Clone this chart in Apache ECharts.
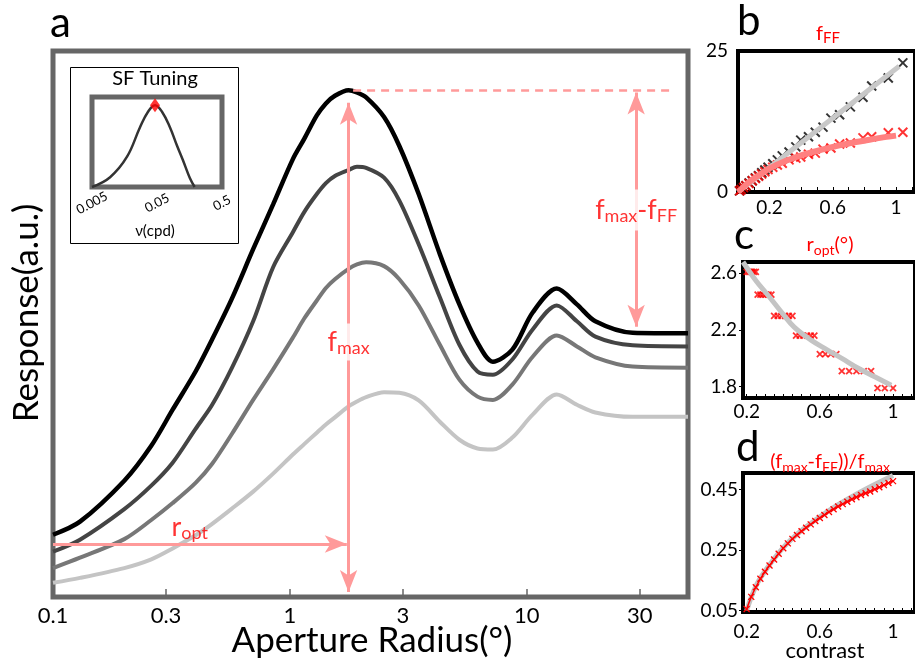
<!DOCTYPE html>
<html><head><meta charset="utf-8">
<script src="https://cdn.jsdelivr.net/npm/echarts@6/dist/echarts.min.js"></script>
<style>html,body{margin:0;padding:0;background:#fff}#c{width:915px;height:667px}</style>
</head><body><div id="c"></div>
<script>
// ---------- data ----------
const radius   = [0.1,0.13,0.2,0.26,0.32,0.4,0.47,0.57,0.7,0.85,1.03,1.15,1.3,1.42,1.55,1.77,1.92,2.1,2.5,2.9,3.5,4.3,5.2,6.2,7.2,8.7,10.6,13.4,16.3,19.5,28,48];
const respHigh = [11.4,13.8,21.3,27.7,34.3,41.3,47.2,54.7,63.7,71.9,80.2,83.9,88.2,90.4,91.8,92.8,92.4,91.5,87.9,82.6,73.8,62.8,53.6,46.6,43.1,45.3,52.1,56.5,53.6,50.5,48.4,48.3];
const respMid1 = [8.3,10.5,16.1,20.4,24.6,30.8,35.2,42.0,50.5,60.4,66.8,70.5,73.8,75.8,77.1,78.2,78.8,78.6,76.8,72.6,64.6,54.9,46.2,41.3,40.7,43.5,49.0,53.4,50.5,47.7,46.1,45.9];
const respMid2 = [5.3,7.2,10.6,14.1,17.2,20.9,24.4,29.9,36.1,41.7,47.5,51.0,54.3,56.6,58.2,60.1,60.9,61.3,60.6,58.2,53.4,46.2,39.8,36.7,36.1,38.9,44.0,47.9,45.9,43.9,42.2,42.0];
const respLow  = [2.6,3.5,5.3,6.9,8.9,11.3,13.4,16.2,19.3,22.6,26.1,28.0,30.1,31.6,32.9,34.9,35.8,36.6,37.5,37.4,36.0,32.1,28.8,27.2,27.0,29.2,33.4,37.1,35.2,33.8,33.0,33.0];
const mainTicks = [0.1,0.3,1,3,10,30];

// annotation values (main panel)
const rOpt = 1.77, fMax = 92.8, fFF = 48.4, ropLevel = 9.7, diffX = 29;

// inset: SF tuning
const sfFreq = [0.005,0.0095,0.0173,0.0274,0.0364,0.0466,0.0597,0.079,0.101,0.125,0.16,0.19];
const sfResp = [0,0.12,0.37,0.73,0.92,1.0,0.92,0.73,0.51,0.33,0.11,0];
const sfPeak = [0.0466, 1.0];
const sfTicks = [0.005,0.05,0.5];

// panel b: f_FF vs contrast
const contrastB = [0.01,0.02,0.035,0.05,0.07,0.09,0.11,0.13,0.15,0.17,0.19,0.22,0.249,0.28,0.323,0.366,0.397,0.446,0.489,0.538,0.588,0.643,0.711,0.791,0.846,0.951,1.043];
const fffBlack = [0.2,0.45,0.8,1.1,1.6,2.0,2.5,2.9,3.4,3.9,4.4,5.0,5.7,6.4,7.1,8.0,9.2,9.8,10.6,11.5,13.1,13.7,15.1,16.8,18.8,20.2,22.9];
const fffRed = [0.2,0.45,0.8,1.1,1.5,2.0,2.4,2.8,3.2,3.6,4.0,4.4,4.8,5.1,5.7,6.0,6.2,6.7,6.9,7.6,7.8,8.5,8.7,9.6,9.8,10.5,10.6];
const fitBlackX = [0,1.02], fitBlackY = [0,22.3];
const fitRedX = [0,0.05,0.1,0.15,0.2,0.3,0.4,0.5,0.6,0.7,0.8,0.9,1.0];
const fitRedY = [0,1.3,2.4,3.3,4.2,5.5,6.5,7.3,8.0,8.6,9.1,9.6,10.0];
const ticksB = [0.2,0.6,1], ticksBy = [0,25];

// panel c: r_opt vs contrast
const contrastC = [0.2,0.21,0.22,0.23,0.24,0.25, 0.26,0.275,0.29,0.305,0.32,0.335, 0.35,0.37,0.39,0.41,0.43,0.45, 0.47,0.49,0.51,0.53,0.55,0.57, 0.6,0.63,0.66,0.69, 0.72,0.76,0.8,0.84,0.88, 0.915,0.955,1.0];
const roptC = [2.61,2.61,2.61,2.61,2.61,2.61, 2.45,2.45,2.45,2.45,2.45,2.45, 2.30,2.30,2.30,2.30,2.30,2.30, 2.16,2.16,2.16,2.16,2.16,2.16, 2.03,2.03,2.03,2.03, 1.91,1.91,1.91,1.91,1.91, 1.79,1.79,1.79];
const fitCx = [0.18,0.25,0.32,0.4,0.46,0.55,0.64,0.72,0.81,0.9,0.99];
const fitCy = [2.68,2.55,2.44,2.31,2.22,2.13,2.06,2.00,1.93,1.87,1.81];
const ticksC = [0.2,0.6,1], ticksCy = [1.8,2.2,2.6];

// panel d: (fmax-fFF)/fmax vs contrast
const contrastD = [0.2,0.225,0.25,0.275,0.3,0.325,0.35,0.375,0.4,0.425,0.45,0.475,0.5,0.525,0.55,0.575,0.6,0.625,0.65,0.675,0.7,0.725,0.75,0.775,0.8,0.825,0.85,0.875,0.9,0.925,0.95,0.975,1.0];
const ratioD = [0.055,0.095,0.127,0.155,0.178,0.199,0.219,0.238,0.256,0.272,0.287,0.300,0.312,0.324,0.335,0.346,0.356,0.366,0.376,0.385,0.394,0.402,0.410,0.418,0.425,0.432,0.438,0.444,0.451,0.458,0.465,0.472,0.478];
const fitDx = [0.2,0.25,0.3,0.4,0.5,0.6,0.7,0.8,0.9,1.0];
const fitDy = [0.05,0.13,0.18,0.258,0.315,0.36,0.4,0.435,0.467,0.497];
const ticksD = [0.2,0.6,1], ticksDy = [0.05,0.25,0.45];
const minorTicksB = [0.1,0.2,0.3,0.4,0.5,0.6,0.7,0.8,0.9,1.0,1.1];
const minorTicksCD = [0.2,0.25,0.3,0.35,0.4,0.45,0.5,0.55,0.6,0.65,0.7,0.75,0.8,0.85,0.9,0.95,1.0,1.05,1.1];

// ---------- chart ----------
const F = 'Lato';
const RED = '#ff0000', PINK = '#ff9a9a';
const pair = (xs, ys) => xs.map((x, i) => [x, ys[i]]);
const fmt = v => String(+(+v).toPrecision(3));
const CROSS = 'path://M0,0L10,10M10,0L0,10';

function subRich(big, small) {
  return {
    m: {fontFamily: F, fontSize: big, color: RED, fill: RED, lineHeight: big + 4},
    s: {fontFamily: F, fontSize: small, color: RED, fill: RED, verticalAlign: 'bottom', lineHeight: small - 2}
  };
}

const chart = echarts.init(document.getElementById('c'));

const smallAxisLabel = {fontFamily: F, fontSize: 19, color: '#000'};

const option = {
  animation: false,
  backgroundColor: '#fff',
  grid: [
    {left: 53, top: 51, width: 635, height: 546, show: true, borderColor: '#666', borderWidth: 5, backgroundColor: 'transparent'},
    {left: 92, top: 97, width: 130, height: 90, show: true, borderColor: '#666', borderWidth: 5, backgroundColor: 'transparent'},
    {left: 738, top: 51, width: 182, height: 141, show: true, borderColor: '#000', borderWidth: 4, backgroundColor: 'transparent'},
    {left: 743, top: 262, width: 178, height: 136, show: true, borderColor: '#000', borderWidth: 4, backgroundColor: 'transparent'},
    {left: 743, top: 473, width: 178, height: 139, show: true, borderColor: '#000', borderWidth: 4, backgroundColor: 'transparent'}
  ],
  xAxis: [
    {gridIndex: 0, type: 'log', logBase: 10, min: 0.1, max: 48,
      axisLine: {show: false}, splitLine: {show: false},
      axisTick: {show: true, inside: true, length: 8, customValues: mainTicks, lineStyle: {color: '#666', width: 1.5}},
      axisLabel: {show: true, customValues: mainTicks, formatter: fmt, fontFamily: F, fontSize: 22, color: '#000', margin: 8},
      minorTick: {show: false}},
    {gridIndex: 1, type: 'log', logBase: 10, min: 0.005, max: 0.5,
      axisLine: {show: false}, splitLine: {show: false}, axisTick: {show: false},
      axisLabel: {show: true, customValues: sfTicks, formatter: fmt, fontFamily: F, fontSize: 13, color: '#000', rotate: 28, align: 'center', verticalAlign: 'middle', margin: 16}},
    {gridIndex: 2, type: 'value', min: 0, max: 1.12,
      axisLine: {show: false}, splitLine: {show: false},
      axisTick: {show: true, inside: true, length: 5, customValues: minorTicksB, lineStyle: {color: '#000', width: 1}},
      axisLabel: Object.assign({customValues: ticksB, formatter: fmt, margin: 6}, smallAxisLabel)},
    {gridIndex: 3, type: 'value', min: 0.18, max: 1.12,
      axisLine: {show: false}, splitLine: {show: false},
      axisTick: {show: true, inside: true, length: 4, customValues: minorTicksCD, lineStyle: {color: '#000', width: 1}},
      axisLabel: Object.assign({customValues: ticksC, formatter: fmt, margin: 4}, smallAxisLabel)},
    {gridIndex: 4, type: 'value', min: 0.18, max: 1.12,
      axisLine: {show: false}, splitLine: {show: false},
      axisTick: {show: true, inside: true, length: 4, customValues: minorTicksCD, lineStyle: {color: '#000', width: 1}},
      axisLabel: Object.assign({customValues: ticksD, formatter: fmt, margin: 10}, smallAxisLabel)}
  ],
  yAxis: [
    {gridIndex: 0, type: 'value', min: 0, max: 100, axisLine: {show: false}, axisTick: {show: false}, axisLabel: {show: false}, splitLine: {show: false}},
    {gridIndex: 1, type: 'value', min: 0, max: 1.1, axisLine: {show: false}, axisTick: {show: false}, axisLabel: {show: false}, splitLine: {show: false}},
    {gridIndex: 2, type: 'value', min: 0, max: 25, axisLine: {show: false}, axisTick: {show: false}, splitLine: {show: false},
      axisLabel: Object.assign({customValues: ticksBy, formatter: fmt, margin: 10}, smallAxisLabel)},
    {gridIndex: 3, type: 'value', min: 1.72, max: 2.68, axisLine: {show: false}, splitLine: {show: false},
      axisTick: {show: true, inside: false, length: 4, customValues: ticksCy, lineStyle: {color: '#000'}},
      axisLabel: Object.assign({customValues: ticksCy, formatter: v => (+v).toFixed(1), margin: 6}, smallAxisLabel)},
    {gridIndex: 4, type: 'value', min: 0.045, max: 0.505, axisLine: {show: false}, splitLine: {show: false},
      axisTick: {show: true, inside: false, length: 4, customValues: ticksDy, lineStyle: {color: '#000'}},
      axisLabel: Object.assign({customValues: ticksDy, formatter: v => (+v).toFixed(2), margin: 5}, smallAxisLabel)}
  ],
  series: [
    // main response curves
    {type: 'line', name: 'c4', xAxisIndex: 0, yAxisIndex: 0, data: pair(radius, respLow), smooth: 0.3, symbol: 'none', lineStyle: {color: '#c4c4c4', width: 4}},
    {type: 'line', name: 'c3', xAxisIndex: 0, yAxisIndex: 0, data: pair(radius, respMid2), smooth: 0.3, symbol: 'none', lineStyle: {color: '#777', width: 4}},
    {type: 'line', name: 'c2', xAxisIndex: 0, yAxisIndex: 0, data: pair(radius, respMid1), smooth: 0.3, symbol: 'none', lineStyle: {color: '#444', width: 4}},
    {type: 'line', name: 'c1', xAxisIndex: 0, yAxisIndex: 0, data: pair(radius, respHigh), smooth: 0.3, symbol: 'none', lineStyle: {color: '#000', width: 4.5}},
    // annotations
    {type: 'scatter', xAxisIndex: 0, yAxisIndex: 0, data: [], silent: true, z: 5,
      markLine: {silent: true, animation: false, label: {show: false}, emphasis: {disabled: true},
        lineStyle: {color: PINK, width: 3, type: 'solid'}, symbolSize: [13, 22],
        data: [
          [{coord: [0.1, ropLevel], symbol: 'none'}, {coord: [1.74, ropLevel], symbol: 'arrow'}],
          [{coord: [rOpt, 0.9], symbol: 'arrow'}, {coord: [rOpt, fMax - 2.3], symbol: 'arrow'}],
          [{coord: [diffX, fFF + 1.1], symbol: 'arrow'}, {coord: [diffX, fMax - 0.4], symbol: 'arrow'}],
          [{coord: [rOpt + 0.08, fMax], symbol: 'none', lineStyle: {type: [8, 6], width: 2.5}}, {coord: [41, fMax], symbol: 'none'}]
        ]}},
    {type: 'scatter', xAxisIndex: 0, yAxisIndex: 0, silent: true, z: 10, symbolSize: 0,
      data: [
        {value: [rOpt, 46.7], label: {formatter: '{m|f}{s|max}', backgroundColor: '#fff', padding: [3, 1]}},
        {value: [diffX, 70.9], label: {formatter: '{m|f}{s|max}{m|-f}{s|FF}', backgroundColor: '#fff', padding: [5, 1]}},
        {value: [0.378, 12.8], label: {formatter: '{m|r}{s|opt}'}}
      ],
      label: {show: true, position: 'inside', rich: subRich(27, 18)}},
    // inset
    {type: 'line', xAxisIndex: 1, yAxisIndex: 1, data: pair(sfFreq, sfResp), smooth: 0.4, symbol: 'none', lineStyle: {color: '#333', width: 2.5}},
    {type: 'scatter', xAxisIndex: 1, yAxisIndex: 1, data: [sfPeak], symbol: 'diamond', symbolSize: [10, 14], itemStyle: {color: RED}, z: 5},
    // panel b
    {type: 'line', xAxisIndex: 2, yAxisIndex: 2, data: pair(fitBlackX, fitBlackY), symbol: 'none', lineStyle: {color: '#c8c8c8', width: 5}},
    {type: 'line', xAxisIndex: 2, yAxisIndex: 2, data: pair(fitRedX, fitRedY), smooth: 0.3, symbol: 'none', lineStyle: {color: '#ff8080', width: 6}},
    {type: 'scatter', xAxisIndex: 2, yAxisIndex: 2, data: pair(contrastB, fffBlack), symbol: CROSS, symbolSize: 9, itemStyle: {color: 'transparent', borderColor: '#000', borderWidth: 2}},
    {type: 'scatter', xAxisIndex: 2, yAxisIndex: 2, data: pair(contrastB, fffRed), symbol: CROSS, symbolSize: 9, itemStyle: {color: 'transparent', borderColor: RED, borderWidth: 2}},
    // panel c
    {type: 'line', xAxisIndex: 3, yAxisIndex: 3, data: pair(fitCx, fitCy), smooth: 0.4, symbol: 'none', lineStyle: {color: '#c4c4c4', width: 5}},
    {type: 'scatter', xAxisIndex: 3, yAxisIndex: 3, data: pair(contrastC, roptC), symbol: CROSS, symbolSize: 6, itemStyle: {color: 'transparent', borderColor: RED, borderWidth: 1.8}},
    // panel d
    {type: 'line', xAxisIndex: 4, yAxisIndex: 4, data: pair(fitDx, fitDy), smooth: 0.4, symbol: 'none', lineStyle: {color: '#c4c4c4', width: 5}},
    {type: 'line', xAxisIndex: 4, yAxisIndex: 4, data: pair(contrastD, ratioD), smooth: 0.3, symbol: CROSS, symbolSize: 6, showSymbol: true,
      lineStyle: {color: RED, width: 1.5}, itemStyle: {color: 'transparent', borderColor: RED, borderWidth: 1.3}}
  ],
  graphic: [
    {type: 'rect', shape: {x: 70.5, y: 67.5, width: 168, height: 176}, style: {fill: 'none', stroke: '#000', lineWidth: 1}, z: 1},
    {type: 'text', x: 155, y: 79, style: {text: 'SF Tuning', font: '20px Lato', fill: '#000', align: 'center', verticalAlign: 'middle'}, z: 10},
    {type: 'text', x: 155, y: 231, style: {text: 'ν(cpd)', font: '15px Lato', fill: '#000', align: 'center', verticalAlign: 'middle'}, z: 10},
    {type: 'text', x: 50, y: 23, style: {text: 'a', font: '42px Lato', fill: '#000', align: 'left', verticalAlign: 'middle'}},
    {type: 'text', x: 737, y: 21, style: {text: 'b', font: '42px Lato', fill: '#000', align: 'left', verticalAlign: 'middle'}},
    {type: 'text', x: 734, y: 235, style: {text: 'c', font: '42px Lato', fill: '#000', align: 'left', verticalAlign: 'middle'}},
    {type: 'text', x: 736, y: 447, style: {text: 'd', font: '42px Lato', fill: '#000', align: 'left', verticalAlign: 'middle'}},
    {type: 'text', x: 828, y: 34, style: {text: '{m|f}{s|FF}', rich: subRich(20, 15), fill: RED, align: 'center', verticalAlign: 'middle'}},
    {type: 'text', x: 830, y: 245, style: {text: '{m|r}{s|opt}{m|(°)}', rich: subRich(20, 14), fill: RED, align: 'center', verticalAlign: 'middle'}},
    {type: 'text', x: 830, y: 462, style: {text: '{m|(f}{s|max}{m|-f}{s|FF}{m|))/f}{s|max}', rich: subRich(20, 14), fill: RED, align: 'center', verticalAlign: 'middle'}},
    {type: 'text', x: 372, y: 641, style: {text: 'Aperture Radius(°)', font: '35px Lato', fill: '#000', align: 'center', verticalAlign: 'middle'}},
    {type: 'text', x: 27, y: 313, rotation: Math.PI / 2, style: {text: 'Response(a.u.)', font: '35px Lato', fill: '#000', align: 'center', verticalAlign: 'middle'}},
    {type: 'text', x: 825, y: 651, style: {text: 'contrast', font: '22px Lato', fill: '#000', align: 'center', verticalAlign: 'middle'}}
  ]
};
chart.setOption(option);
</script></body></html>
